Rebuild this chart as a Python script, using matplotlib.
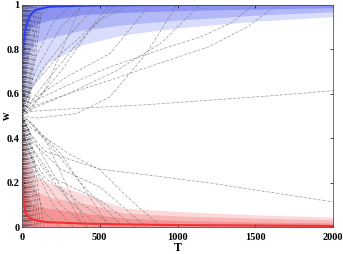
import numpy as np
import matplotlib
matplotlib.use("Agg")
import matplotlib.pyplot as plt

# Zeitachse fuer Baender und Mittelwerte
T_band = [0, 10, 25, 50, 85, 170, 390, 660, 1000, 1500, 2000]

# blaue Baender: untere Kanten (oben jeweils w=1)
blau_hell = [0.50, 0.53, 0.57, 0.61, 0.65, 0.74, 0.82, 0.865, 0.895, 0.925, 0.946]
blau_mittel = [0.50, 0.62, 0.72, 0.79, 0.83, 0.85, 0.885, 0.91, 0.93, 0.952, 0.968]
blau_dunkel = [0.55, 0.75, 0.85, 0.89, 0.91, 0.93, 0.955, 0.965, 0.973, 0.98, 0.986]
blau_mean = [0.76, 0.83, 0.90, 0.95, 0.975, 0.99, 0.995, 0.997, 0.998, 0.999, 0.999]

# rote Baender: obere Kanten (unten jeweils w=0)
rot_hell = [0.50, 0.45, 0.38, 0.30, 0.23, 0.20, 0.15, 0.085, 0.07, 0.055, 0.045]
rot_mittel = [0.50, 0.38, 0.28, 0.20, 0.16, 0.135, 0.107, 0.063, 0.05, 0.04, 0.032]
rot_dunkel = [0.45, 0.25, 0.16, 0.11, 0.095, 0.085, 0.063, 0.04, 0.03, 0.023, 0.018]
rot_mean = [0.27, 0.12, 0.06, 0.04, 0.03, 0.022, 0.016, 0.012, 0.009, 0.007, 0.005]

# einzelne Trajektorien (T, w)
traj = [
    ([0, 60, 400, 800, 1200, 1600, 2000], [0.50, 0.52, 0.535, 0.55, 0.57, 0.59, 0.613]),
    ([0, 40, 150, 502, 800, 1209, 2000], [0.50, 0.43, 0.34, 0.26, 0.235, 0.198, 0.113]),
    ([0, 60, 300, 566, 900, 1150, 1350, 1490], [0.50, 0.56, 0.64, 0.72, 0.80, 0.855, 0.92, 1.0]),
    ([0, 60, 300, 566, 900, 1200, 1450, 1640], [0.50, 0.54, 0.60, 0.66, 0.74, 0.81, 0.90, 1.0]),
    ([0, 100, 350, 566, 800, 997], [0.50, 0.49, 0.51, 0.585, 0.78, 1.0]),
    ([0, 80, 300, 566, 823], [0.50, 0.58, 0.68, 0.78, 1.0]),
    ([0, 50, 250, 500, 700], [0.52, 0.62, 0.78, 0.93, 1.0]),
    ([0, 60, 300, 600, 900, 1145], [0.50, 0.53, 0.60, 0.70, 0.83, 1.0]),
    ([0, 50, 300, 502, 700, 900], [0.50, 0.45, 0.33, 0.257, 0.12, 0.0]),
    ([0, 40, 250, 502, 800], [0.50, 0.40, 0.26, 0.18, 0.0]),
    ([0, 40, 200, 502, 727], [0.50, 0.38, 0.22, 0.12, 0.0]),
    ([0, 30, 150, 350, 600], [0.48, 0.35, 0.22, 0.12, 0.0]),
    ([0, 30, 120, 300, 500], [0.50, 0.40, 0.28, 0.12, 0.0]),
    ([0, 40, 150, 350, 600], [0.50, 0.55, 0.65, 0.82, 1.0]),
    ([0, 30, 120, 300, 480], [0.50, 0.58, 0.70, 0.86, 1.0]),
    ([0, 30, 100, 250, 400], [0.52, 0.60, 0.72, 0.90, 1.0]),
    ([0, 20, 80, 200, 320], [0.50, 0.60, 0.75, 0.92, 1.0]),
    ([0, 20, 80, 200, 330], [0.50, 0.40, 0.27, 0.10, 0.0]),
    ([0, 25, 100, 250, 420], [0.48, 0.38, 0.25, 0.10, 0.0]),
    ([0, 30, 150, 300, 400], [0.50, 0.45, 0.30, 0.12, 0.0]),
    ([0, 60, 200, 400, 650], [0.50, 0.47, 0.35, 0.18, 0.0]),
    ([0, 15, 60, 150, 250], [0.50, 0.38, 0.20, 0.06, 0.0]),
    ([0, 15, 50, 120, 200], [0.50, 0.62, 0.80, 0.95, 1.0]),
    ([0, 50, 150, 260, 380], [0.50, 0.52, 0.62, 0.80, 1.0]),
    ([0, 50, 160, 280, 420], [0.50, 0.47, 0.38, 0.20, 0.0]),
    ([0, 70, 250, 450, 560], [0.50, 0.55, 0.70, 0.90, 1.0]),
    ([0, 70, 250, 450, 560], [0.50, 0.46, 0.33, 0.12, 0.0]),
]

# schnelle Trajektorien nahe T=0
schnell = [
    ([0, 4, 12], [0.50, 0.72, 1.0]), ([0, 5, 14], [0.50, 0.28, 0.0]),
    ([0, 6, 16], [0.50, 0.75, 1.0]), ([0, 6, 17], [0.50, 0.25, 0.0]),
    ([0, 7, 20], [0.50, 0.70, 1.0]), ([0, 8, 21], [0.50, 0.30, 0.0]),
    ([0, 9, 24], [0.50, 0.68, 1.0]), ([0, 9, 25], [0.50, 0.31, 0.0]),
    ([0, 10, 28], [0.50, 0.70, 1.0]), ([0, 11, 29], [0.50, 0.28, 0.0]),
    ([0, 12, 32], [0.50, 0.66, 1.0]), ([0, 12, 33], [0.50, 0.33, 0.0]),
    ([0, 14, 36], [0.50, 0.68, 1.0]), ([0, 14, 37], [0.50, 0.32, 0.0]),
    ([0, 16, 40], [0.50, 0.65, 1.0]), ([0, 16, 42], [0.50, 0.35, 0.0]),
    ([0, 18, 45], [0.50, 0.64, 1.0]), ([0, 18, 47], [0.50, 0.36, 0.0]),
    ([0, 20, 50], [0.50, 0.63, 1.0]), ([0, 20, 52], [0.50, 0.37, 0.0]),
    ([0, 22, 56], [0.50, 0.62, 1.0]), ([0, 23, 58], [0.50, 0.38, 0.0]),
    ([0, 25, 62], [0.50, 0.61, 1.0]), ([0, 26, 65], [0.50, 0.39, 0.0]),
    ([0, 28, 70], [0.50, 0.60, 1.0]), ([0, 30, 74], [0.50, 0.40, 0.0]),
    ([0, 32, 80], [0.50, 0.58, 1.0]), ([0, 34, 84], [0.50, 0.42, 0.0]),
    ([0, 36, 90], [0.50, 0.57, 1.0]), ([0, 38, 95], [0.50, 0.43, 0.0]),
    ([0, 40, 100], [0.50, 0.56, 1.0]), ([0, 42, 106], [0.50, 0.44, 0.0]),
    ([0, 45, 115], [0.50, 0.57, 1.0]), ([0, 48, 120], [0.50, 0.43, 0.0]),
    ([0, 52, 130], [0.50, 0.58, 1.0]), ([0, 55, 140], [0.50, 0.42, 0.0]),
    ([0, 3, 8], [0.50, 0.80, 1.0]), ([0, 3, 9], [0.50, 0.20, 0.0]),
    ([0, 2, 6], [0.50, 0.82, 1.0]), ([0, 2, 7], [0.50, 0.18, 0.0]),
]

x_ticks = [0, 500, 1000, 1500, 2000]
y_ticks = [0, 0.2, 0.4, 0.6, 0.8, 1]
y_labels = ["0", "0.2", "0.4", "0.6", "0.8", "1"]

plt.rcParams["font.family"] = ["Liberation Serif", "DejaVu Serif"]
plt.rcParams["font.weight"] = "bold"

fig = plt.figure(figsize=(3.43, 2.54), dpi=100)
ax = fig.add_axes([0.064, 0.106, 0.907, 0.876])

ax.fill_between(T_band, blau_hell, 1, color="#d9dcfb", lw=0)
ax.fill_between(T_band, blau_mittel, 1, color="#b3b8f6", lw=0)
ax.fill_between(T_band, blau_dunkel, 1, color="#8c93f0", lw=0)
ax.fill_between(T_band, 0, rot_hell, color="#fcd8d8", lw=0)
ax.fill_between(T_band, 0, rot_mittel, color="#f9b6b6", lw=0)
ax.fill_between(T_band, 0, rot_dunkel, color="#f49494", lw=0)

strich = (0, (3, 1.5, 0.8, 1.5))
for t, w in traj:
    ax.plot(t, w, linestyle=strich, color="#777777", lw=0.5, alpha=0.9)
for t, w in schnell:
    ax.plot(t, w, linestyle=strich, color="#2a2233", lw=0.5, alpha=0.6)

ax.plot(T_band, blau_mean, color="#2f3ff0", lw=1.5)
ax.plot(T_band, rot_mean, color="#f03232", lw=1.5)

ax.set_xlim(0, 2000)
ax.set_ylim(0, 1)
ax.set_xticks(x_ticks)
ax.set_yticks(y_ticks)
ax.set_yticklabels(y_labels)
ax.tick_params(direction="in", length=2.5, width=0.5, labelsize=7.5, pad=4,
               top=True, right=True)
ax.tick_params(axis="y", pad=1.5)
for s in ax.spines.values():
    s.set_linewidth(0.6)
    s.set_color("#555555")
ax.set_xlabel("T", fontsize=8.5, fontweight="bold", labelpad=0.5)
ax.set_ylabel("w", fontsize=8.5, fontweight="bold", rotation=90)
ax.yaxis.set_label_coords(-0.03, 0.5)

fig.savefig("out.png", dpi=100)
